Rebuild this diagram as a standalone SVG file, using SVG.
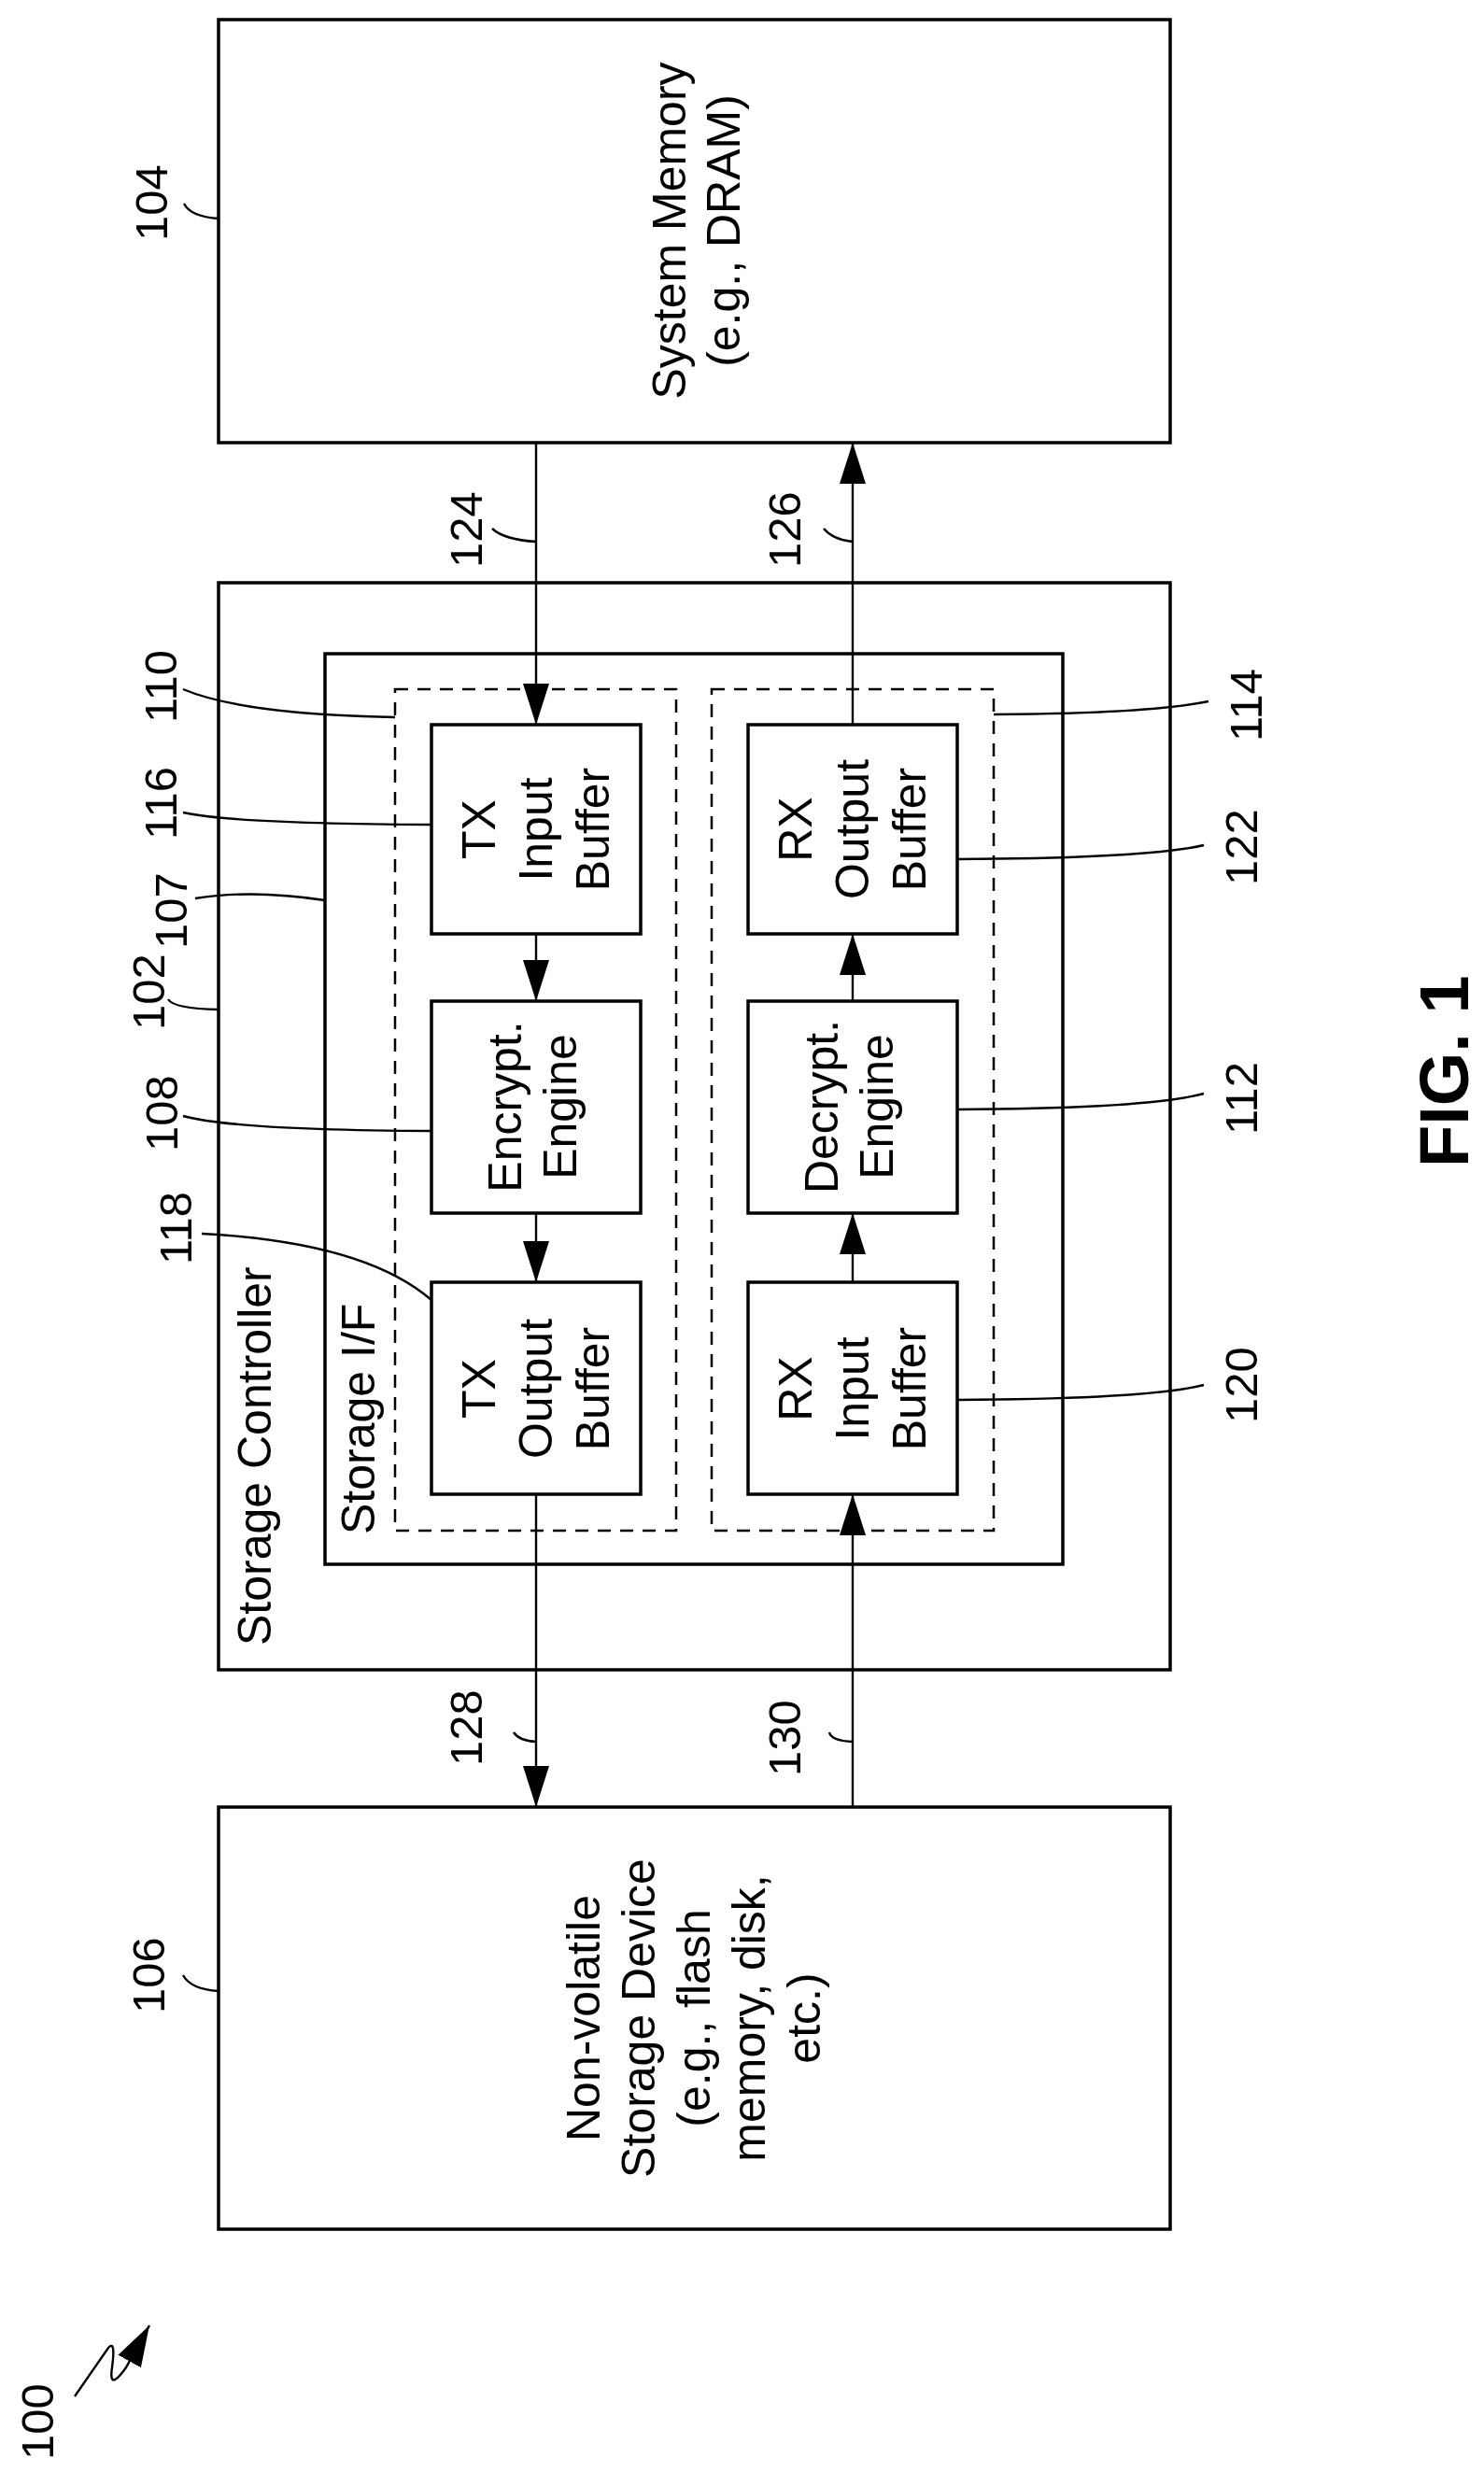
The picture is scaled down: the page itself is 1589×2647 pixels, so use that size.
<svg xmlns="http://www.w3.org/2000/svg" width="1589" height="2647" viewBox="0 0 1589 2647">
<style>
.box{fill:none;stroke:#000;stroke-width:3.5}
.dash{fill:none;stroke:#000;stroke-width:2.5;stroke-dasharray:14 10}
.ln{fill:none;stroke:#000;stroke-width:2.4}
.t{font-family:"Liberation Sans",Arial,sans-serif;font-size:50px;fill:#000}
.n{font-family:"Liberation Sans",Arial,sans-serif;font-size:49px;fill:#000}
</style>
<defs>
<marker id="ah" markerWidth="44" markerHeight="28" refX="44" refY="14" orient="auto" markerUnits="userSpaceOnUse" viewBox="0 0 44 28"><path d="M0,0 L44,14 L0,28 Z" fill="#000"/></marker>
</defs>
<rect width="1589" height="2647" fill="#fff"/>
<g id="n104"><rect class="box" x="234" y="21" width="1019" height="453"/>
<text class="t" text-anchor="middle" transform="translate(734,247) rotate(-90)"><tspan x="0">System Memory</tspan><tspan x="0" dy="58">(e.g., DRAM)</tspan></text></g>
<g id="n102"><rect class="box" x="234" y="624" width="1019" height="1164"/>
<text class="t" transform="translate(290,1762) rotate(-90)">Storage Controller</text></g>
<g id="n107"><rect class="box" x="348" y="700" width="790" height="975"/>
<text class="t" transform="translate(401,1643) rotate(-90)">Storage I/F</text></g>
<g id="n110"><rect class="dash" x="423" y="738" width="301" height="901"/></g>
<g id="n114"><rect class="dash" x="762" y="738" width="302" height="901"/></g>
<g id="n116"><rect class="box" x="462" y="776" width="224" height="224"/>
<text class="t" text-anchor="middle" transform="translate(530,888) rotate(-90)"><tspan x="0">TX</tspan><tspan x="0" dy="61">Input</tspan><tspan x="0" dy="61">Buffer</tspan></text></g>
<g id="n108"><rect class="box" x="462" y="1072" width="224" height="227"/>
<text class="t" text-anchor="middle" transform="translate(558,1185) rotate(-90)"><tspan x="0">Encrypt.</tspan><tspan x="0" dy="59">Engine</tspan></text></g>
<g id="n118"><rect class="box" x="462" y="1373" width="224" height="227"/>
<text class="t" text-anchor="middle" transform="translate(530,1487) rotate(-90)"><tspan x="0">TX</tspan><tspan x="0" dy="61">Output</tspan><tspan x="0" dy="61">Buffer</tspan></text></g>
<g id="n122"><rect class="box" x="801" y="776" width="224" height="224"/>
<text class="t" text-anchor="middle" transform="translate(869,888) rotate(-90)"><tspan x="0">RX</tspan><tspan x="0" dy="61">Output</tspan><tspan x="0" dy="61">Buffer</tspan></text></g>
<g id="n112"><rect class="box" x="801" y="1072" width="224" height="227"/>
<text class="t" text-anchor="middle" transform="translate(897,1185) rotate(-90)"><tspan x="0">Decrypt.</tspan><tspan x="0" dy="59">Engine</tspan></text></g>
<g id="n120"><rect class="box" x="801" y="1373" width="224" height="227"/>
<text class="t" text-anchor="middle" transform="translate(869,1487) rotate(-90)"><tspan x="0">RX</tspan><tspan x="0" dy="61">Input</tspan><tspan x="0" dy="61">Buffer</tspan></text></g>
<g id="n106"><rect class="box" x="234" y="1935" width="1019" height="452"/>
<text class="t" text-anchor="middle" transform="translate(642,2161) rotate(-90)"><tspan x="0">Non-volatile</tspan><tspan x="0" dy="59">Storage Device</tspan><tspan x="0" dy="59">(e.g., flash</tspan><tspan x="0" dy="59">memory, disk,</tspan><tspan x="0" dy="59">etc.)</tspan></text></g>
<g id="connectors">
<line class="ln" x1="574" y1="474" x2="574" y2="776" marker-end="url(#ah)"/>
<line class="ln" x1="913" y1="776" x2="913" y2="474" marker-end="url(#ah)"/>
<line class="ln" x1="574" y1="1000" x2="574" y2="1072" marker-end="url(#ah)"/>
<line class="ln" x1="574" y1="1299" x2="574" y2="1373" marker-end="url(#ah)"/>
<line class="ln" x1="913" y1="1373" x2="913" y2="1299" marker-end="url(#ah)"/>
<line class="ln" x1="913" y1="1072" x2="913" y2="1000" marker-end="url(#ah)"/>
<line class="ln" x1="574" y1="1600" x2="574" y2="1935" marker-end="url(#ah)"/>
<line class="ln" x1="913" y1="1935" x2="913" y2="1600" marker-end="url(#ah)"/>
</g>
<g id="labels">
<text class="n" transform="translate(179,258) rotate(-90)">104</text>
<path class="ln" d="M197,218 Q204,232 234,234"/>
<text class="n" transform="translate(516,608) rotate(-90)">124</text>
<path class="ln" d="M527,566 Q540,578 574,580"/>
<text class="n" transform="translate(857,608) rotate(-90)">126</text>
<path class="ln" d="M882,566 Q892,578 913,580"/>
<text class="n" transform="translate(189,774) rotate(-90)">110</text>
<path class="ln" d="M196,738 Q260,765 423,768"/>
<text class="n" transform="translate(189,899) rotate(-90)">116</text>
<path class="ln" d="M196,870 Q250,882 462,883"/>
<text class="n" transform="translate(200,1016) rotate(-90)">107</text>
<path class="ln" d="M209,962 Q270,952 348,964"/>
<text class="n" transform="translate(176,1103) rotate(-90)">102</text>
<path class="ln" d="M180,1070 Q186,1080 234,1081"/>
<text class="n" transform="translate(190,1233) rotate(-90)">108</text>
<path class="ln" d="M196,1195 Q250,1210 462,1211"/>
<text class="n" transform="translate(205,1354) rotate(-90)">118</text>
<path class="ln" d="M216,1321 Q390,1330 462,1392"/>
<text class="n" transform="translate(1351,794) rotate(-90)">114</text>
<path class="ln" d="M1064,765 Q1230,764 1294,751"/>
<text class="n" transform="translate(1346,948) rotate(-90)">122</text>
<path class="ln" d="M1025,920 Q1230,919 1289,905"/>
<text class="n" transform="translate(1346,1215) rotate(-90)">112</text>
<path class="ln" d="M1025,1188 Q1230,1187 1289,1171"/>
<text class="n" transform="translate(1346,1524) rotate(-90)">120</text>
<path class="ln" d="M1025,1499 Q1230,1498 1289,1483"/>
<text class="n" transform="translate(516,1891) rotate(-90)">128</text>
<path class="ln" d="M550,1855 Q556,1864 574,1865"/>
<text class="n" transform="translate(857,1902) rotate(-90)">130</text>
<path class="ln" d="M888,1855 Q890,1864 913,1865"/>
<text class="n" transform="translate(176,2156) rotate(-90)">106</text>
<path class="ln" d="M196,2115 Q204,2130 234,2132"/>
<text class="n" transform="translate(57,2634) rotate(-90)">100</text>
<path class="ln" d="M80,2566 L116,2514 Q124,2505 120,2535 Q116,2562 135,2535 L160,2490" marker-end="url(#ah)"/>
</g>
<text transform="translate(1572,1250) rotate(-90)" font-family="Liberation Sans,Arial,sans-serif" font-weight="bold" font-size="74">FIG. 1</text>
</svg>
